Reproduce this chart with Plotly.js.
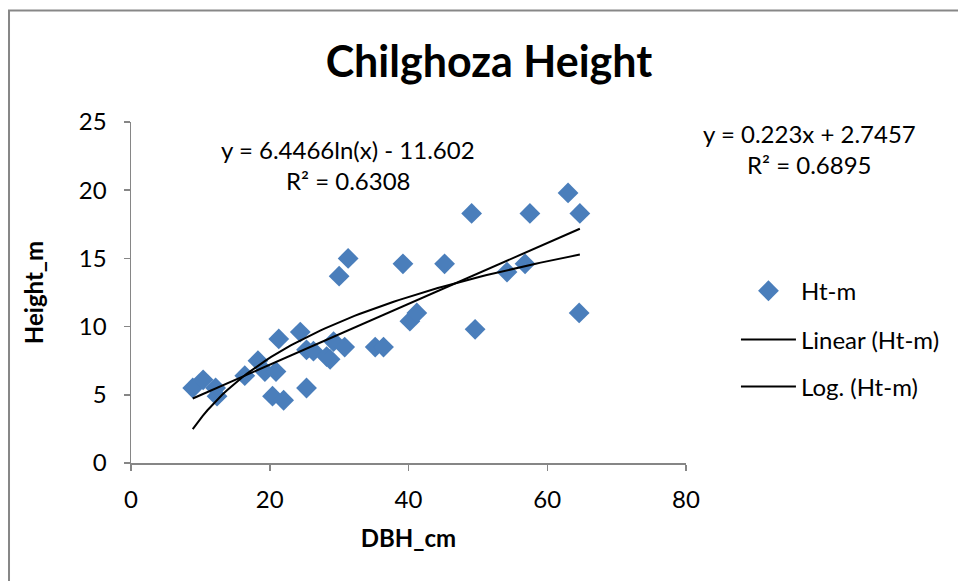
<!DOCTYPE html>
<html>
<head>
<meta charset="utf-8">
<script src="https://cdn.plot.ly/plotly-3.0.1.min.js"></script>
<style>html,body{margin:0;padding:0;background:#fff;}#chart{width:958px;height:581px;}</style>
</head>
<body>
<div id="chart"></div>
<script>
// DBH (cm) and height (m)
const dbh = [8.9, 10.4, 12.2, 12.4, 16.4, 18.3, 19.3, 20.4, 20.9, 21.3, 22.0, 24.4, 25.3, 25.3, 26.3, 28.2, 28.7, 29.2, 30.0, 30.8, 31.3, 35.2, 36.4, 39.2, 40.2, 41.2, 45.2, 49.1, 49.6, 54.2, 56.8, 57.5, 63.0, 64.7, 64.6];
const height = [5.5, 6.1, 5.5, 4.9, 6.4, 7.5, 6.7, 4.9, 6.7, 9.1, 4.6, 9.6, 8.3, 5.5, 8.2, 7.8, 7.6, 8.9, 13.7, 8.5, 15.0, 8.5, 8.5, 14.6, 10.4, 11.0, 14.6, 18.3, 9.8, 14.0, 14.6, 18.3, 19.8, 18.3, 11.0];

// Trendline coefficients as printed on the chart
const linSlope = 0.223, linIntercept = 2.7457;
const logCoef = 6.4466, logConst = -11.602;

const seriesName = 'Ht-m';
const linName = 'Linear (Ht-m)';
const logName = 'Log. (Ht-m)';
const linEq = 'y = 0.223x + 2.7457', linR2 = 'R² = 0.6895';
const logEq = 'y = 6.4466ln(x) - 11.602', logR2 = 'R² = 0.6308';

const xMin = Math.min(...dbh), xMax = Math.max(...dbh);
const nSamp = 80;
const tx = [];
for (let i = 0; i < nSamp; i++) tx.push(xMin + (xMax - xMin) * i / (nSamp - 1));
const linY = tx.map(x => linSlope * x + linIntercept);
const logY = tx.map(x => logCoef * Math.log(x) + logConst);

const FONT = 'Lato, "Open Sans", sans-serif';
const AX = '#868686';
const FS = 24;

const data = [
  {x: dbh, y: height, type: 'scatter', mode: 'markers', name: seriesName,
   marker: {symbol: 'diamond', size: 16, color: '#4a7ebb'}, legend: 'legend', cliponaxis: false},
  {x: tx, y: linY, type: 'scatter', mode: 'lines', name: linName,
   line: {color: '#000', width: 2}, legend: 'legend2'},
  {x: tx, y: logY, type: 'scatter', mode: 'lines', name: logName,
   line: {color: '#000', width: 2}, legend: 'legend3'}
];

const legBase = {xref: 'paper', yref: 'paper', xanchor: 'left', yanchor: 'middle', itemwidth: 55,
  bgcolor: 'rgba(0,0,0,0)', font: {family: FONT, size: FS, color: '#000'}};

const layout = {
  width: 958, height: 581,
  margin: {l: 131, r: 272, t: 122, b: 118},
  paper_bgcolor: '#fff', plot_bgcolor: '#fff',
  font: {family: FONT, color: '#000'},
  title: {text: '<b>Chilghoza Height</b>', font: {family: FONT, size: 43, color: '#000'},
    xref: 'paper', x: 0.645, xanchor: 'center', yref: 'container', y: 0.893, yanchor: 'middle'},
  xaxis: {range: [0, 80], dtick: 20, tick0: 0, showgrid: false, zeroline: false,
    showline: true, linecolor: AX, linewidth: 1.5, ticks: 'outside', ticklen: 6, tickcolor: AX, tickwidth: 1.5,
    tickfont: {family: FONT, size: FS, color: '#000'}, ticklabelstandoff: 9,
    title: {text: '<b>DBH_cm</b>', font: {family: FONT, size: FS, color: '#000'}, standoff: 18}},
  yaxis: {range: [0, 25], dtick: 5, tick0: 0, showgrid: false, zeroline: false,
    showline: true, linecolor: AX, linewidth: 1.5, ticks: 'outside', ticklen: 6, tickcolor: AX, tickwidth: 1.5,
    tickfont: {family: FONT, size: FS, color: '#000'}, ticklabelstandoff: 12,
    title: {text: '<b>Height_m</b>', font: {family: FONT, size: FS, color: '#000'}, standoff: 28}},
  showlegend: true,
  legend: Object.assign({}, legBase, {x: 1.09, y: 0.504}),
  legend2: Object.assign({}, legBase, {x: 1.09, y: 0.361}),
  legend3: Object.assign({}, legBase, {x: 1.09, y: 0.223}),
  annotations: [
    {text: logEq, xref: 'paper', yref: 'paper', x: 0.391, y: 0.918, xanchor: 'center', yanchor: 'middle', showarrow: false, font: {family: FONT, size: FS, color: '#000'}},
    {text: logR2, xref: 'paper', yref: 'paper', x: 0.391, y: 0.827, xanchor: 'center', yanchor: 'middle', showarrow: false, font: {family: FONT, size: FS, color: '#000'}},
    {text: linEq, xref: 'paper', yref: 'paper', x: 1.223, y: 0.965, xanchor: 'center', yanchor: 'middle', showarrow: false, font: {family: FONT, size: FS, color: '#000'}},
    {text: linR2, xref: 'paper', yref: 'paper', x: 1.223, y: 0.874, xanchor: 'center', yanchor: 'middle', showarrow: false, font: {family: FONT, size: FS, color: '#000'}}
  ],
  shapes: [
    {type: 'rect', xref: 'paper', yref: 'paper', x0: -0.2198, x1: 1.6, y0: -0.4, y1: 1.327,
     line: {color: '#878787', width: 2}, fillcolor: 'rgba(0,0,0,0)', layer: 'below'}
  ]
};

Plotly.newPlot('chart', data, layout, {displayModeBar: false, staticPlot: true});
</script>
</body>
</html>
